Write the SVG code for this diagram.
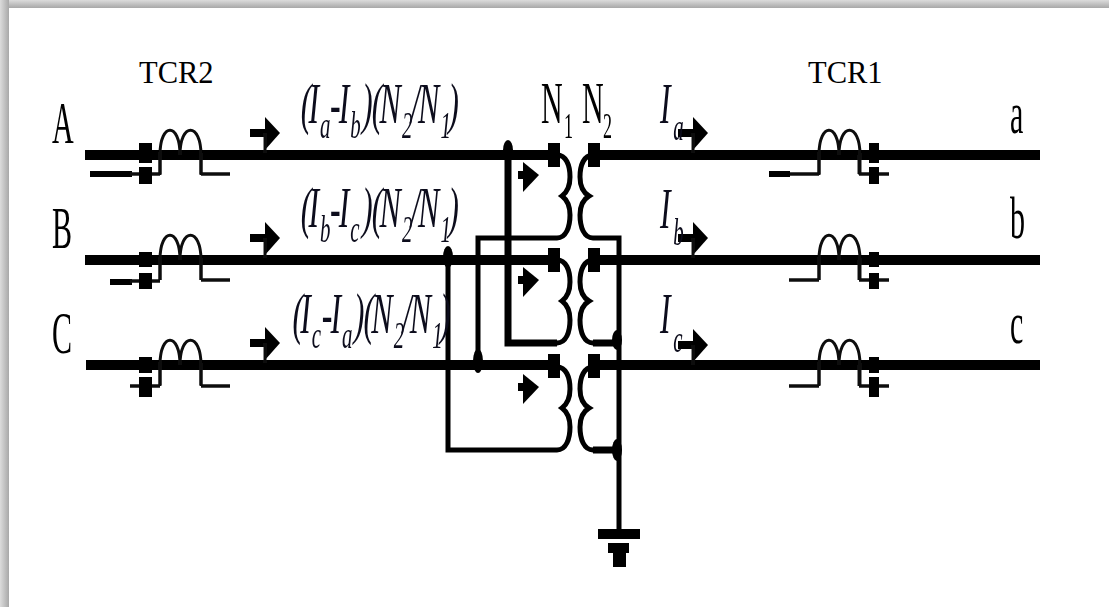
<svg xmlns="http://www.w3.org/2000/svg" width="1109" height="607" viewBox="0 0 1109 607">
<defs>
<linearGradient id="gl" x1="0" x2="1" y1="0" y2="0"><stop offset="0" stop-color="#dcdcdc"/><stop offset="1" stop-color="#a8a8a8"/></linearGradient>
<linearGradient id="gt" x1="0" x2="0" y1="0" y2="1"><stop offset="0" stop-color="#dcdcdc"/><stop offset="1" stop-color="#a8a8a8"/></linearGradient>
<filter id="soft" x="-2%" y="-2%" width="104%" height="104%"><feGaussianBlur stdDeviation="0.6"/></filter>
<g id="coil"><path d="M0 20V0C0-33 20-33 20 0C20-33 41-33 41 0V20" class="thin"/></g>
<g id="arrow"><path d="M0 0H15" class="stem"/><path d="M15-16L30 0L15 17Z" class="fill"/><path d="M15 0V20" class="thin"/></g>
<g id="inner"><path d="M-1 0H6" class="stem"/><path d="M4-13L20 0L4 17Z" class="fill"/></g>
<path id="pcoil" d="M0 0C9 0 13 10 13 22C13 33 9 38 5 41C9 44 13 50 13 60C13 72 9 83 0 83" class="wire"/>
<path id="scoil" d="M0 0C-9 0-13 10-13 22C-13 33-9 38-4 41C-9 44-13 50-13 60C-13 72-9 83 0 83" class="wire"/>
</defs>
<style>
.bus{stroke:#000;stroke-width:10;fill:none}
.thin{stroke:#111;stroke-width:3;fill:none}
.lead{stroke:#111;stroke-width:3.5;fill:none}
.thick{stroke:#000;stroke-width:6;fill:none}
.wire{stroke:#000;stroke-width:5;fill:none}
.stem{stroke:#000;stroke-width:8;fill:none}
.fill{fill:#000}
text{font-family:"Liberation Serif","Times New Roman",serif;fill:#000}
.big{font-size:60px}
.sub{font-size:36px}
.cap{font-size:30.5px}
.f{font-size:58px;font-style:italic;fill:#0c0c1c}
.fs{font-size:38px;font-style:italic;fill:#0c0c1c}
</style>
<rect width="1109" height="607" fill="#fff"/>
<g id="frame"><rect x="0" y="0" width="1109" height="8" fill="url(#gt)"/><rect x="0" y="0" width="9" height="607" fill="url(#gl)"/></g>
<g id="connectors" filter="url(#soft)">
<path class="bus" d="M85 155H555M595 155H1040M85 260H555M595 260H1040M86 365H555M595 365H1040"/>
<path class="thick" d="M90 174H132M110 282H132"/>
<path class="lead" d="M130 174H160M130 281H160M130 386H160M201 174H230M201 280H230M201 386H230"/>
<path class="lead" d="M789 174H819M789 280H819M789 386H819M859 174H889M859 280H889M859 386H889"/>
<path class="thick" d="M769 174H790"/>
<use href="#coil" x="160" y="155"/><use href="#coil" x="160" y="260"/><use href="#coil" x="160" y="365"/>
<use href="#coil" x="819" y="155"/><use href="#coil" x="819" y="260"/><use href="#coil" x="819" y="365"/>
<path class="thin" d="M160 174V155M201 174V155M160 280V260M201 280V260M160 386V365M201 386V365M819 174V155M859 174V155M819 280V260M859 280V260M819 386V365M859 386V365"/>
<use href="#arrow" x="250" y="133"/><use href="#arrow" x="250" y="238"/><use href="#arrow" x="250" y="343"/>
<use href="#arrow" x="678" y="133"/><use href="#arrow" x="678" y="238"/><use href="#arrow" x="678" y="345"/>
<use href="#inner" x="519" y="175"/><use href="#inner" x="519" y="280"/><use href="#inner" x="519" y="387"/>
<use href="#pcoil" x="557" y="155"/><use href="#pcoil" x="557" y="260"/><use href="#pcoil" x="557" y="367"/>
<use href="#scoil" x="593" y="155"/><use href="#scoil" x="593" y="260"/><use href="#scoil" x="593" y="367"/>
<path class="wire" d="M557 238H478V365"/>
<path d="M557 343H508V155" stroke="#000" stroke-width="7" fill="none"/>
<path class="wire" d="M557 450H448V260"/>
<path class="wire" d="M593 238H619V530"/>
<path d="M593 343H617M593 450H617" stroke="#000" stroke-width="7" fill="none"/>
<g id="junctions" class="fill">
<ellipse cx="508" cy="150" rx="5" ry="10"/><ellipse cx="448" cy="257" rx="5" ry="11"/><ellipse cx="478" cy="361" rx="5" ry="12"/><ellipse cx="617" cy="340" rx="5" ry="10"/><ellipse cx="617" cy="450" rx="5" ry="11"/>
</g>
</g>
<g filter="url(#soft)">
<g id="ground" class="fill"><rect x="598" y="529" width="42" height="10"/><rect x="608" y="543" width="21" height="10"/><rect x="613" y="553" width="13" height="14"/></g>
<g id="tcr2-terminals" class="fill"><rect x="139" y="143" width="13" height="20"/><rect x="139" y="167" width="13" height="17"/><rect x="139" y="252" width="13" height="15"/><rect x="139" y="273" width="13" height="16"/><rect x="139" y="357" width="13" height="16"/><rect x="139" y="377" width="13" height="20"/></g>
<g id="tcr1-terminals" class="fill"><rect x="869" y="143" width="10" height="20"/><rect x="869" y="167" width="10" height="17"/><rect x="869" y="252" width="10" height="15"/><rect x="869" y="273" width="10" height="16"/><rect x="869" y="357" width="10" height="16"/><rect x="869" y="377" width="10" height="20"/></g>
<g id="transformer-terminals" class="fill"><rect x="548" y="143" width="12" height="24"/><rect x="588" y="143" width="12" height="24"/><rect x="548" y="248" width="12" height="24"/><rect x="588" y="248" width="12" height="24"/><rect x="548" y="354" width="12" height="24"/><rect x="588" y="354" width="12" height="24"/></g>
</g>
<g id="labels">
<text class="cap" x="139" y="83">TCR2</text>
<text class="cap" x="808" y="83">TCR1</text>
<g transform="scale(.5,1)">
<text class="big" x="104" y="143">A</text><text class="big" x="104" y="248">B</text><text class="big" x="104" y="353">C</text>
<text class="big" x="1082" y="123">N</text><text class="sub" x="1128" y="138">1</text>
<text class="big" x="1164" y="123">N</text><text class="sub" x="1206" y="138">2</text>
<text class="big" x="2020" y="133">a</text><text class="big" x="2020" y="238">b</text><text class="big" x="2020" y="343">c</text>
</g>
<g transform="scale(.55,1)">
<text class="f" x="1200" y="123">I</text><text class="fs" x="1224" y="140">a</text>
<text class="f" x="1200" y="228">I</text><text class="fs" x="1224" y="245">b</text>
<text class="f" x="1200" y="333">I</text><text class="fs" x="1224" y="352">c</text>
<text class="f" y="123"><tspan x="547">(</tspan><tspan x="561">I</tspan><tspan class="fs" x="582" y="138">a</tspan><tspan x="600" y="123">-</tspan><tspan x="616">I</tspan><tspan class="fs" x="637" y="138">b</tspan><tspan x="658" y="123">)</tspan><tspan x="676">(</tspan><tspan x="690">N</tspan><tspan class="fs" x="731" y="138">2</tspan><tspan x="747" y="123">/</tspan><tspan x="760">N</tspan><tspan class="fs" x="801" y="138">1</tspan><tspan x="815" y="123">)</tspan></text>
<text class="f" y="227"><tspan x="547">(</tspan><tspan x="561">I</tspan><tspan class="fs" x="582" y="242">b</tspan><tspan x="600" y="227">-</tspan><tspan x="616">I</tspan><tspan class="fs" x="637" y="242">c</tspan><tspan x="658" y="227">)</tspan><tspan x="676">(</tspan><tspan x="690">N</tspan><tspan class="fs" x="731" y="242">2</tspan><tspan x="747" y="227">/</tspan><tspan x="760">N</tspan><tspan class="fs" x="801" y="242">1</tspan><tspan x="815" y="227">)</tspan></text>
<text class="f" y="333"><tspan x="532">(</tspan><tspan x="546">I</tspan><tspan class="fs" x="567" y="348">c</tspan><tspan x="585" y="333">-</tspan><tspan x="601">I</tspan><tspan class="fs" x="622" y="348">a</tspan><tspan x="643" y="333">)</tspan><tspan x="661">(</tspan><tspan x="675">N</tspan><tspan class="fs" x="716" y="348">2</tspan><tspan x="732" y="333">/</tspan><tspan x="745">N</tspan><tspan class="fs" x="786" y="348">1</tspan><tspan x="800" y="333">)</tspan></text>
</g>
</g>
</svg>
